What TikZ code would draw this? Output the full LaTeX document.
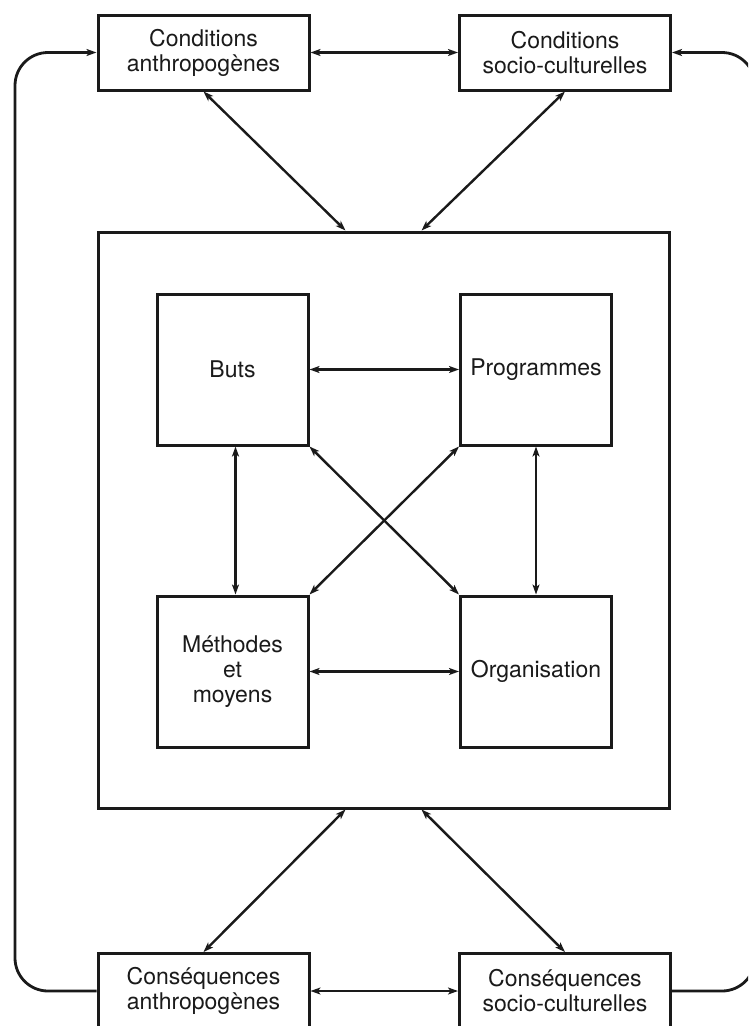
\documentclass[tikz,border=0pt]{standalone}
\usepackage{fontspec}
\setmainfont{TeX Gyre Heros}
\usetikzlibrary{arrows.meta,calc}
\definecolor{ink}{HTML}{1A1A1A}
\begin{document}
\begin{tikzpicture}[x=1pt,y=-1pt,
  box/.style={draw=ink,line width=3pt,fill=white,align=center,inner sep=0pt,
    font=\fontsize{23}{25}\selectfont,text=ink},
  outerbox/.style={box,minimum width=211pt,minimum height=75pt},
  innerbox/.style={box,minimum width=151pt,minimum height=151pt},
  link/.style={draw=ink,line width=2.4pt,{Stealth[length=10pt,width=7pt,inset=2.5pt]}-{Stealth[length=10pt,width=7pt,inset=2.5pt]}},
  loop/.style={draw=ink,line width=2.8pt,rounded corners=33pt,-{Stealth[length=10pt,width=7pt,inset=2.5pt]}}]
\clip (0,0) rectangle (748,1026);
\fill[white] (0,0) rectangle (748,1026);
% big frame
\node[draw=ink,line width=3pt,minimum width=571pt,minimum height=576pt,inner sep=0pt] (big) at (383.5,520) {};
% outer boxes
\node[outerbox] (tl) at (203.5,52.5) {Conditions\\anthropogènes};
\node[outerbox] (tr) at (565,52.5) {Conditions\\socio-culturelles};
\node[outerbox] (bl) at (203.5,991) {Conséquences\\anthropogènes};
\node[outerbox] (br) at (565,991) {Conséquences\\socio-culturelles};
% inner boxes
\node[innerbox] (buts) at (232.5,369.5) {Buts};
\node[innerbox] (prog) at (536,369.5) {Programmes};
\node[innerbox] (meth) at (232.5,671.5) {Méthodes\\et\\moyens};
\node[innerbox] (org) at (536,671.5) {Organisation};
% helper coordinates
\coordinate (btl) at ($(big.north west)+(249,0)$);
\coordinate (btr) at ($(big.north west)+(325,0)$);
\coordinate (bbl) at ($(big.south west)+(249,0)$);
\coordinate (bbr) at ($(big.south west)+(325,0)$);
\coordinate (lt) at (15,52.5);
\coordinate (lb) at (15,991);
\coordinate (rt) at (755,52.5);
\coordinate (rb) at (755,991);
% connectors
\draw[link] (tl.east) -- (tr.west);
\draw[link] (bl.east) -- (br.west);
\draw[link] (tl.south) -- (btl);
\draw[link] (tr.south) -- (btr);
\draw[link] (bbl) -- (bl.north);
\draw[link] (bbr) -- (br.north);
\draw[link] (buts.east) -- (prog.west);
\draw[link] (meth.east) -- (org.west);
\draw[link] ([xshift=3pt]buts.south) -- ([xshift=3pt]meth.north);
\draw[link] (prog.south) -- (org.north);
\draw[link] (buts.south east) -- (org.north west);
\draw[link] (prog.south west) -- (meth.north east);
% feedback loops
\draw[loop] (bl.west) -- (lb) -- (lt) -- (tl.west);
\draw[loop] (br.east) -- (rb) -- (rt) -- (tr.east);
\end{tikzpicture}
\end{document}
